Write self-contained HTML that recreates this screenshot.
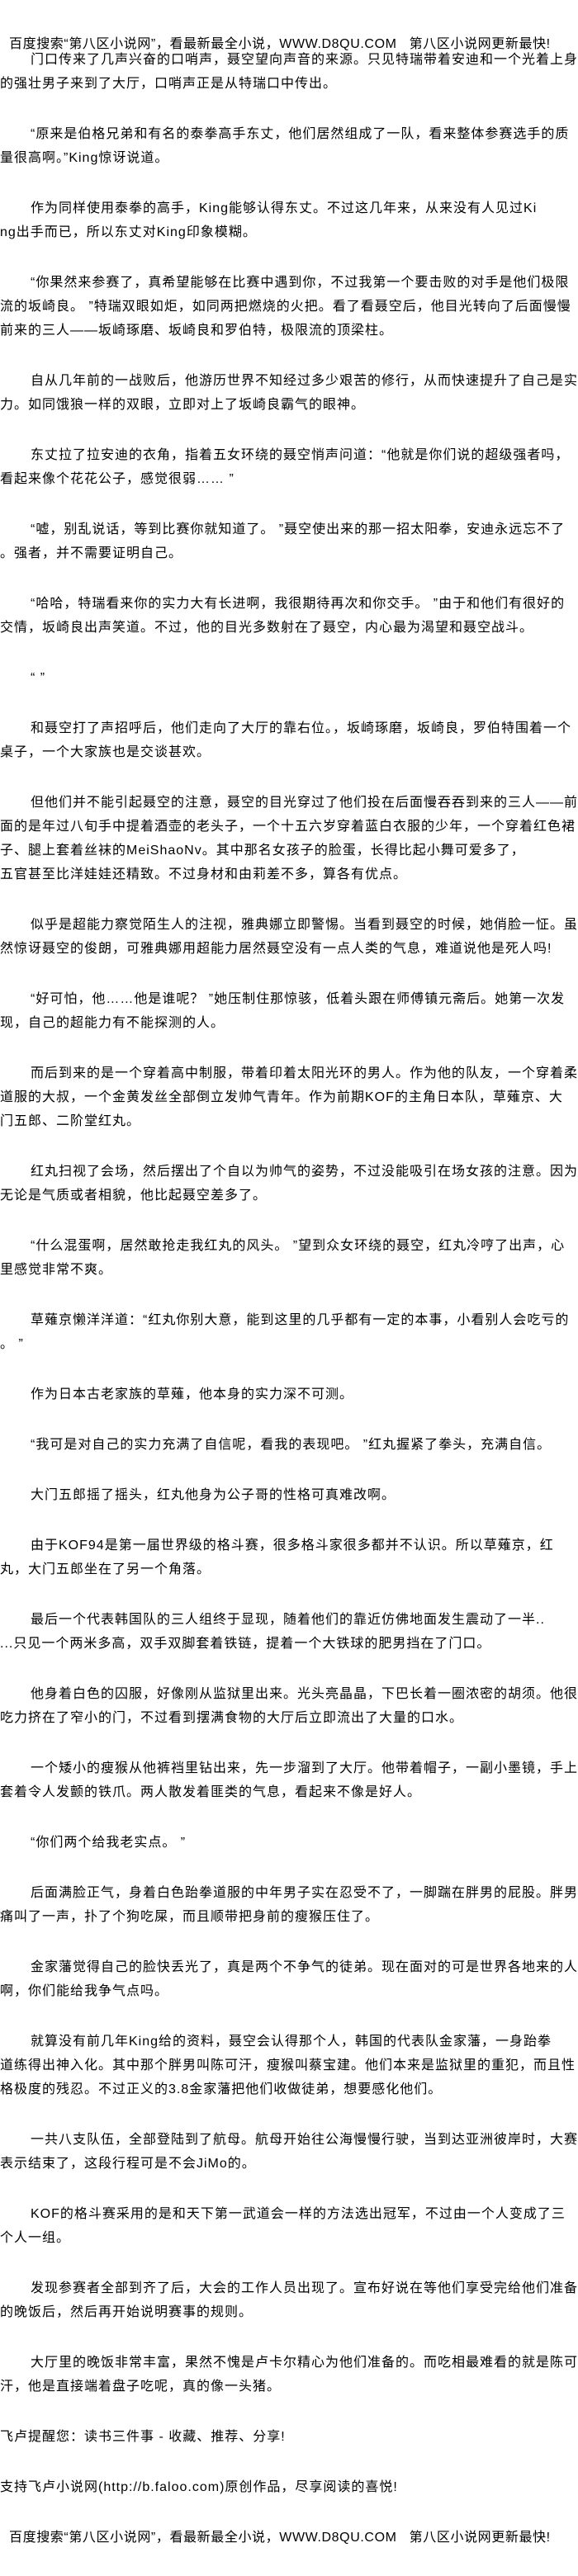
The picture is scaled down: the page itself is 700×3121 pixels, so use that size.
<!DOCTYPE html>
<html><head><meta charset="utf-8">
<style>
html,body{margin:0;padding:0;background:#fff;}
body{width:700px;height:3110px;position:relative;overflow:hidden;color:#000;
font-family:"Liberation Sans","Noto Sans CJK SC",sans-serif;font-size:16px;}
.hd{position:absolute;left:11px;top:45px;line-height:18px;white-space:nowrap;letter-spacing:0.6px;}
.c{position:absolute;left:0;top:58px;width:700px;}
.c p{margin:0 0 32px 0;line-height:29px;white-space:nowrap;letter-spacing:1px;text-indent:37px;}
.c p.n{text-indent:0;}
.c p.f{text-indent:11px;letter-spacing:0.6px;}
</style></head><body>
<div class="hd">百度搜索“第八区小说网”，看最新最全小说，WWW.D8QU.COM&nbsp;&nbsp; 第八区小说网更新最快!</div>
<div class="c">
<p>门口传来了几声兴奋的口哨声，聂空望向声音的来源。只见特瑞带着安迪和一个光着上身<br>的强壮男子来到了大厅，口哨声正是从特瑞口中传出。</p>
<p>“原来是伯格兄弟和有名的泰拳高手东丈，他们居然组成了一队，看来整体参赛选手的质<br>量很高啊。”King惊讶说道。</p>
<p>作为同样使用泰拳的高手，King能够认得东丈。不过这几年来，从来没有人见过Ki<br>ng出手而已，所以东丈对King印象模糊。</p>
<p>“你果然来参赛了，真希望能够在比赛中遇到你，不过我第一个要击败的对手是他们极限<br>流的坂崎良。 ”特瑞双眼如炬，如同两把燃烧的火把。看了看聂空后，他目光转向了后面慢慢<br>前来的三人——坂崎琢磨、坂崎良和罗伯特，极限流的顶梁柱。</p>
<p>自从几年前的一战败后，他游历世界不知经过多少艰苦的修行，从而快速提升了自己是实<br>力。如同饿狼一样的双眼，立即对上了坂崎良霸气的眼神。</p>
<p>东丈拉了拉安迪的衣角，指着五女环绕的聂空悄声问道：“他就是你们说的超级强者吗，<br>看起来像个花花公子，感觉很弱…… ”</p>
<p>“嘘，别乱说话，等到比赛你就知道了。 ”聂空使出来的那一招太阳拳，安迪永远忘不了<br>。强者，并不需要证明自己。</p>
<p>“哈哈，特瑞看来你的实力大有长进啊，我很期待再次和你交手。 ”由于和他们有很好的<br>交情，坂崎良出声笑道。不过，他的目光多数射在了聂空，内心最为渴望和聂空战斗。</p>
<p>“ ”</p>
<p>和聂空打了声招呼后，他们走向了大厅的靠右位。，坂崎琢磨，坂崎良，罗伯特围着一个<br>桌子，一个大家族也是交谈甚欢。</p>
<p>但他们并不能引起聂空的注意，聂空的目光穿过了他们投在后面慢吞吞到来的三人——前<br>面的是年过八旬手中提着酒壶的老头子，一个十五六岁穿着蓝白衣服的少年，一个穿着红色裙<br>子、腿上套着丝袜的MeiShaoNv。其中那名女孩子的脸蛋，长得比起小舞可爱多了，<br>五官甚至比洋娃娃还精致。不过身材和由莉差不多，算各有优点。</p>
<p>似乎是超能力察觉陌生人的注视，雅典娜立即警惕。当看到聂空的时候，她俏脸一怔。虽<br>然惊讶聂空的俊朗，可雅典娜用超能力居然聂空没有一点人类的气息，难道说他是死人吗!</p>
<p>“好可怕，他……他是谁呢？ ”她压制住那惊骇，低着头跟在师傅镇元斋后。她第一次发<br>现，自己的超能力有不能探测的人。</p>
<p>而后到来的是一个穿着高中制服，带着印着太阳光环的男人。作为他的队友，一个穿着柔<br>道服的大叔，一个金黄发丝全部倒立发帅气青年。作为前期KOF的主角日本队，草薙京、大<br>门五郎、二阶堂红丸。</p>
<p>红丸扫视了会场，然后摆出了个自以为帅气的姿势，不过没能吸引在场女孩的注意。因为<br>无论是气质或者相貌，他比起聂空差多了。</p>
<p>“什么混蛋啊，居然敢抢走我红丸的风头。 ”望到众女环绕的聂空，红丸冷哼了出声，心<br>里感觉非常不爽。</p>
<p>草薙京懒洋洋道：“红丸你别大意，能到这里的几乎都有一定的本事，小看别人会吃亏的<br>。 ”</p>
<p>作为日本古老家族的草薙，他本身的实力深不可测。</p>
<p>“我可是对自己的实力充满了自信呢，看我的表现吧。 ”红丸握紧了拳头，充满自信。</p>
<p>大门五郎摇了摇头，红丸他身为公子哥的性格可真难改啊。</p>
<p>由于KOF94是第一届世界级的格斗赛，很多格斗家很多都并不认识。所以草薙京，红<br>丸，大门五郎坐在了另一个角落。</p>
<p>最后一个代表韩国队的三人组终于显现，随着他们的靠近仿佛地面发生震动了一半..<br>...只见一个两米多高，双手双脚套着铁链，提着一个大铁球的肥男挡在了门口。</p>
<p>他身着白色的囚服，好像刚从监狱里出来。光头亮晶晶，下巴长着一圈浓密的胡须。他很<br>吃力挤在了窄小的门，不过看到摆满食物的大厅后立即流出了大量的口水。</p>
<p>一个矮小的瘦猴从他裤裆里钻出来，先一步溜到了大厅。他带着帽子，一副小墨镜，手上<br>套着令人发颤的铁爪。两人散发着匪类的气息，看起来不像是好人。</p>
<p>“你们两个给我老实点。 ”</p>
<p>后面满脸正气，身着白色跆拳道服的中年男子实在忍受不了，一脚踹在胖男的屁股。胖男<br>痛叫了一声，扑了个狗吃屎，而且顺带把身前的瘦猴压住了。</p>
<p>金家藩觉得自己的脸快丢光了，真是两个不争气的徒弟。现在面对的可是世界各地来的人<br>啊，你们能给我争气点吗。</p>
<p>就算没有前几年King给的资料，聂空会认得那个人，韩国的代表队金家藩，一身跆拳<br>道练得出神入化。其中那个胖男叫陈可汗，瘦猴叫蔡宝建。他们本来是监狱里的重犯，而且性<br>格极度的残忍。不过正义的3.8金家藩把他们收做徒弟，想要感化他们。</p>
<p>一共八支队伍，全部登陆到了航母。航母开始往公海慢慢行驶，当到达亚洲彼岸时，大赛<br>表示结束了，这段行程可是不会JiMo的。</p>
<p>KOF的格斗赛采用的是和天下第一武道会一样的方法选出冠军，不过由一个人变成了三<br>个人一组。</p>
<p>发现参赛者全部到齐了后，大会的工作人员出现了。宣布好说在等他们享受完给他们准备<br>的晚饭后，然后再开始说明赛事的规则。</p>
<p>大厅里的晚饭非常丰富，果然不愧是卢卡尔精心为他们准备的。而吃相最难看的就是陈可<br>汗，他是直接端着盘子吃呢，真的像一头猪。</p>
<p class="n">飞卢提醒您：读书三件事 - 收藏、推荐、分享!</p>
<p class="n">支持飞卢小说网(http://b.faloo.com)原创作品，尽享阅读的喜悦!</p>
<p class="f">百度搜索“第八区小说网”，看最新最全小说，WWW.D8QU.COM&nbsp;&nbsp; 第八区小说网更新最快!</p>
</div>
</body></html>
